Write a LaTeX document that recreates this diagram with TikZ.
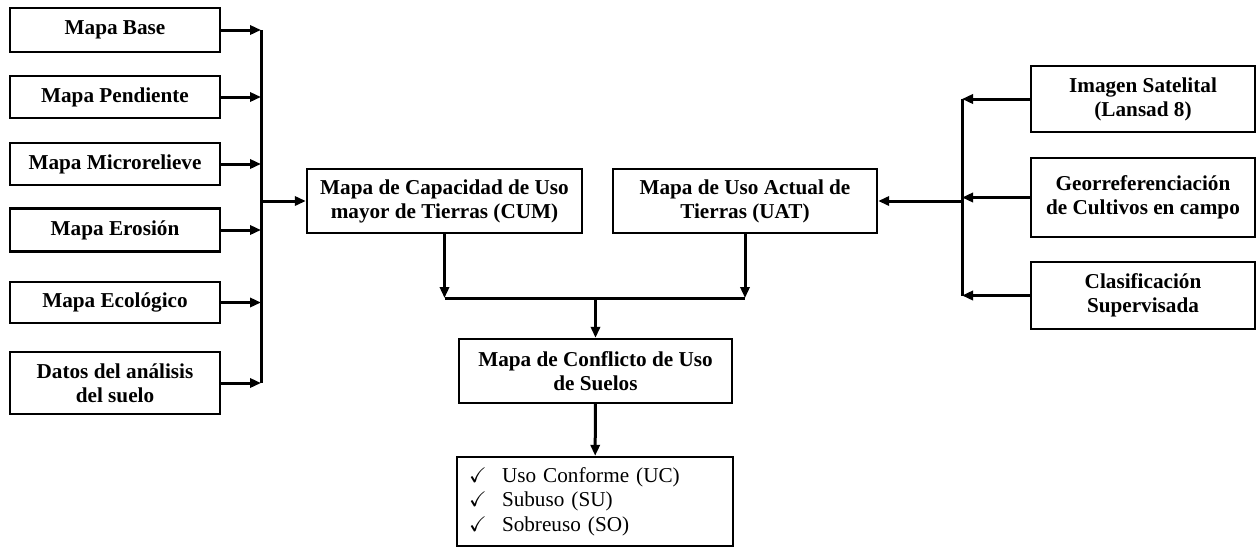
\documentclass[tikz,border=0pt]{standalone}
\usepackage{fontspec}
\usepackage{amssymb}
\setmainfont{Liberation Serif}
\usetikzlibrary{arrows.meta}

\tikzset{
  caja/.style={draw, line width=1.2pt, inner sep=0pt, align=center,
    font=\fontsize{10.6}{12}\selectfont\bfseries},
  flecha/.style={line width=1.5pt, -{Triangle[length=5.5pt,width=4.6pt]}},
  linea/.style={line width=1.5pt}
}
\newcommand{\chk}{\makebox[16.5pt][l]{$\checkmark$}}

\begin{document}
\begin{tikzpicture}[x=0.5pt, y=-0.5pt]
    \useasboundingbox (0,0) rectangle (1259,547);

    % mapas de entrada
    \node[caja, minimum width=105pt, minimum height=22pt] (base) at (115,30) {Mapa Base};
    \node[caja, minimum width=105pt, minimum height=21pt] (pend) at (115,97) {Mapa Pendiente};
    \node[caja, minimum width=105pt, minimum height=21pt] (micro) at (115,164) {Mapa Microrelieve};
    \node[caja, minimum width=105pt, minimum height=21.5pt] (eros) at (115,230) {Mapa Erosión};
    \node[caja, minimum width=105pt, minimum height=20.5pt] (eco) at (115,302.5) {Mapa Ecológico};
    \node[caja, minimum width=105pt, minimum height=31pt] (datos) at (115,383) {Datos del análisis\\del suelo};

    % entradas de uso actual
    \node[caja, minimum width=112pt, minimum height=33pt] (imagen) at (1143,99) {Imagen Satelital\\(Lansad 8)};
    \node[caja, minimum width=112pt, minimum height=39.5pt] (georef) at (1143,197.5) {Georreferenciación\\de Cultivos en campo};
    \node[caja, minimum width=112pt, minimum height=33.5pt] (clasif) at (1143,295.5) {Clasificación\\Supervisada};

    % mapas intermedios
    \node[caja, minimum width=137.5pt, minimum height=32pt] (cum) at (444.5,201) {Mapa de Capacidad de Uso\\mayor de Tierras (CUM)};
    \node[caja, minimum width=132pt, minimum height=32pt] (uat) at (745,201) {Mapa de Uso Actual de\\Tierras (UAT)};

    % resultado
    \node[caja, minimum width=136.5pt, minimum height=32pt] (conf) at (595.5,371) {Mapa de Conflicto de Uso\\de Suelos};
    \node[draw, line width=1.2pt, text width=126pt, inner xsep=6pt, inner ysep=0pt,
      minimum height=44.5pt, align=left,
      font=\fontsize{10.6}{12.25}\selectfont] (lista) at (595,501.5)
      {\chk Uso Conforme (UC)\\\chk Subuso (SU)\\\chk Sobreuso (SO)};

    % colectores
    \coordinate (bizq) at (261,0);
    \coordinate (bder) at (962,0);
    \coordinate (bmed) at (0,298);

    \foreach \n in {base,pend,micro,eros,eco,datos}
      \draw[flecha] (\n) -- (\n -| bizq);
    \draw[linea] (base -| bizq) -- (datos -| bizq);
    \draw[flecha] (cum -| bizq) -- (cum);

    \foreach \n in {imagen,georef,clasif}
      \draw[flecha] (\n) -- (\n -| bder);
    \draw[linea] (imagen -| bder) -- (clasif -| bder);
    \draw[flecha] (uat -| bder) -- (uat);

    \draw[flecha] (cum.south) -- (cum.south |- bmed);
    \draw[flecha] (uat.south) -- (uat.south |- bmed);
    \draw[linea] (cum.south |- bmed) -- (uat.south |- bmed);
    \draw[flecha] (conf.north |- bmed) -- (conf);
    \draw[flecha] (conf) -- (lista);
  \end{tikzpicture}
\end{document}
